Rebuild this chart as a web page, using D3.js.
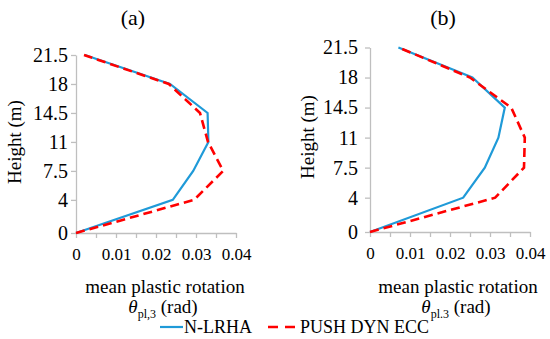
<!DOCTYPE html>
<html>
<head>
<meta charset="utf-8">
<script src="https://cdn.jsdelivr.net/npm/d3@7"></script>
<style>
  body { margin: 0; background: #fff; }
</style>
</head>
<body>
<svg id="chart" width="550" height="339"></svg>
<script>
// heights of the storeys (m) and tick values
const heights = [0, 4, 7.5, 11, 14.5, 18, 21.5];
const xTicks = [0, 0.005, 0.01, 0.015, 0.02, 0.025, 0.03, 0.035, 0.04];

// mean plastic rotation (rad)
const aNLRHA = [0, 0.0242, 0.0293, 0.0331, 0.0329, 0.0235, 0.0022];
const aPush = [0, 0.0295, 0.0368, 0.0330, 0.0310, 0.0232, 0.0020];
const bNLRHA = [0, 0.0233, 0.0287, 0.0321, 0.0337, 0.0256, 0.0071];
const bPush = [0, 0.0313, 0.0385, 0.0387, 0.0353, 0.0250, 0.0072];

const panelTitles = ["(a)", "(b)"];
const subLabels = ["pl,3", "pl.3"];
const seriesNames = ["N-LRHA", "PUSH DYN ECC"];

const blue = "#1f9ad8";
const red = "#ff0000";
const grey = "#bfbfbf";
const serif = "'Liberation Serif'";

const svg = d3.select("#chart");

function drawPanel(cfg) {
  const x = d3.scaleLinear().domain([0, 0.04]).range([cfg.x0, cfg.x1]);
  const y = d3.scaleLinear().domain([0, 21.5]).range([cfg.y0, cfg.y1]);
  const g = svg.append("g");

  // bottom axis, minor ticks every 0.005, labels every 0.01
  const xAxis = g.append("g")
    .attr("transform", "translate(0," + cfg.y0 + ")")
    .call(d3.axisBottom(x).tickValues(xTicks).tickSize(5).tickSizeOuter(0).tickPadding(10)
      .tickFormat((d) => {
        const k = Math.round(d * 1000);
        if (k % 10 !== 0) return "";
        return k === 0 ? "0" : d3.format(".2f")(d);
      }));
  xAxis.select(".domain").attr("stroke", grey).attr("stroke-width", 1.3);
  xAxis.selectAll(".tick line").attr("stroke", grey).attr("stroke-width", 1.3);
  xAxis.selectAll("text").style("font-family", serif).attr("font-size", "17px").attr("fill", "#000");

  // left axis
  const yAxis = g.append("g")
    .attr("transform", "translate(" + cfg.x0 + ",0)")
    .call(d3.axisLeft(y).tickValues(heights).tickSize(5).tickSizeOuter(0).tickPadding(cfg.yPad)
      .tickFormat((d) => String(d)));
  yAxis.select(".domain").attr("stroke", grey).attr("stroke-width", 1.3);
  yAxis.selectAll(".tick line").attr("stroke", grey).attr("stroke-width", 1.3);
  yAxis.selectAll("text").style("font-family", serif).attr("font-size", "20px").attr("fill", "#000");

  const line = d3.line()
    .x((d) => x(d[0]))
    .y((d) => y(d[1]));

  // N-LRHA
  g.append("path")
    .datum(d3.zip(cfg.blue, heights))
    .attr("fill", "none")
    .attr("stroke", blue)
    .attr("stroke-width", 2.2)
    .attr("d", line);

  // PUSH DYN ECC
  g.append("path")
    .datum(d3.zip(cfg.red, heights))
    .attr("fill", "none")
    .attr("stroke", red)
    .attr("stroke-width", 2.6)
    .attr("stroke-dasharray", "9,5")
    .attr("d", line);

  // panel title
  g.append("text")
    .attr("x", cfg.titleX)
    .attr("y", 25)
    .attr("text-anchor", "middle")
    .style("font-family", serif)
    .attr("font-size", "22px")
    .text(cfg.title);

  // y title
  g.append("text")
    .attr("transform", "translate(" + (cfg.yTitleX) + "," + cfg.yTitleY + ") rotate(-90)")
    .attr("text-anchor", "middle")
    .style("font-family", serif)
    .attr("font-size", "19px")
    .text("Height (m)");

  // x title, two lines
  g.append("text")
    .attr("x", cfg.xTitleX)
    .attr("y", 293)
    .attr("text-anchor", "middle")
    .style("font-family", serif)
    .attr("font-size", "19px")
    .text("mean plastic rotation");

  const t = g.append("text")
    .attr("x", cfg.xTitleX - 2)
    .attr("y", 313)
    .attr("text-anchor", "middle")
    .style("font-family", serif)
    .attr("font-size", "19px");
  t.append("tspan").attr("font-style", "italic").text("\u03b8");
  t.append("tspan").attr("font-size", "12px").attr("dy", 5).text(cfg.sub);
  t.append("tspan").attr("dy", -5).text(" (rad)");
}

drawPanel({
  x0: 76, x1: 236, y0: 233, y1: 55, yPad: 3,
  blue: aNLRHA, red: aPush, title: panelTitles[0], sub: subLabels[0],
  titleX: 133, yTitleX: 21, yTitleY: 142, xTitleX: 165
});

drawPanel({
  x0: 370, x1: 530, y0: 232, y1: 47.5, yPad: 7,
  blue: bNLRHA, red: bPush, title: panelTitles[1], sub: subLabels[1],
  titleX: 443, yTitleX: 314, yTitleY: 137, xTitleX: 458
});

// legend
const legend = svg.append("g");
legend.append("line")
  .attr("x1", 160).attr("x2", 183).attr("y1", 327).attr("y2", 327)
  .attr("stroke", blue).attr("stroke-width", 2.2);
legend.append("text")
  .attr("x", 184).attr("y", 333)
  .style("font-family", serif).attr("font-size", "18px")
  .text(seriesNames[0]);
legend.append("line")
  .attr("x1", 268).attr("x2", 295).attr("y1", 327).attr("y2", 327)
  .attr("stroke", red).attr("stroke-width", 2.6).attr("stroke-dasharray", "10,7");
legend.append("text")
  .attr("x", 300).attr("y", 333)
  .style("font-family", serif).attr("font-size", "18px")
  .text(seriesNames[1]);
</script>
</body>
</html>
